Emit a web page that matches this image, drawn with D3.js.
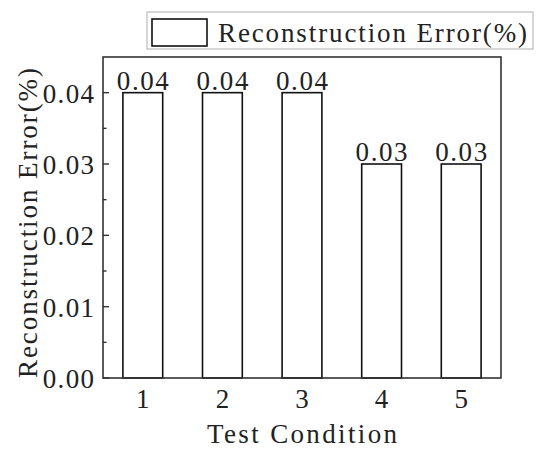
<!DOCTYPE html>
<html><head><meta charset="utf-8">
<script src="https://cdn.jsdelivr.net/npm/d3@7"></script>
<style>body{margin:0;background:#fff}svg{display:block}</style>
</head><body>
<svg id="c" width="550" height="453"></svg>
<script>
const categories = ["1","2","3","4","5"];
const values = [0.04, 0.04, 0.04, 0.03, 0.03];
const valueLabels = ["0.04","0.04","0.04","0.03","0.03"];
const yTicks = [0, 0.01, 0.02, 0.03, 0.04];
const yTickLabels = ["0.00","0.01","0.02","0.03","0.04"];
const yMinorTicks = [0.005, 0.015, 0.025, 0.035];
const seriesName = "Reconstruction Error(%)";
const xTitle = "Test Condition";
const yTitle = "Reconstruction Error(%)";

const svg = d3.select("#c");
const font = "'Liberation Serif', 'DejaVu Serif', serif";
const fs = 27;
const ink = "#222";
const L = 103, R = 501, T = 57, B = 378;

const x = d3.scaleLinear().domain([0.5, 5.5]).range([L, R]);
const y = d3.scaleLinear().domain([0, 0.045]).range([B, T]);
const cw = 13.3; // char width to mimic monospaced font

// bars
svg.append("g").selectAll("rect").data(values).join("rect")
  .attr("x", (d,i) => x(i+1) - (x(1.25)-x(1)))
  .attr("width", x(1.5)-x(1))
  .attr("y", d => y(d))
  .attr("height", d => y(0) - y(d))
  .attr("fill", "#fff").attr("stroke", "#111").attr("stroke-width", 1.6);

// frame
svg.append("rect").attr("x", L).attr("y", T).attr("width", R-L).attr("height", B-T)
  .attr("fill", "none").attr("stroke", "#333").attr("stroke-width", 1.6);

// y axis ticks (inside)
const yAxis = svg.append("g");
yAxis.selectAll("line.maj").data(yTicks).join("line").attr("class","maj")
  .attr("x1", L).attr("x2", L+6).attr("y1", d => y(d)).attr("y2", d => y(d))
  .attr("stroke", "#333").attr("stroke-width", 1.4);
yAxis.selectAll("line.min").data(yMinorTicks).join("line").attr("class","min")
  .attr("x1", L).attr("x2", L+3.5).attr("y1", d => y(d)).attr("y2", d => y(d))
  .attr("stroke", "#333").attr("stroke-width", 1.4);
yAxis.selectAll("text").data(yTicks).join("text")
  .attr("x", 94).attr("y", d => y(d) + 10)
  .attr("text-anchor", "end")
  .attr("font-family", font).attr("font-size", fs).attr("fill", ink)
  .attr("textLength", (d,i) => yTickLabels[i].length * cw - 2)
  .attr("lengthAdjust", "spacing")
  .text((d,i) => yTickLabels[i]);

// x labels
svg.append("g").selectAll("text").data(categories).join("text")
  .attr("x", (d,i) => x(i+1)).attr("y", 408)
  .attr("text-anchor", "middle")
  .attr("font-family", font).attr("font-size", fs).attr("fill", ink)
  .text(d => d);

// value labels
svg.append("g").selectAll("text").data(values).join("text")
  .attr("x", (d,i) => x(i+1) - 26).attr("y", d => y(d) - 3)
  .attr("font-family", font).attr("font-size", fs).attr("fill", ink)
  .attr("textLength", 52).attr("lengthAdjust", "spacing")
  .text((d,i) => valueLabels[i]);

// axis titles
svg.append("text").attr("x", 207).attr("y", 443)
  .attr("font-family", font).attr("font-size", fs).attr("fill", ink)
  .attr("textLength", 190).attr("lengthAdjust", "spacing")
  .text(xTitle);
svg.append("text")
  .attr("transform", `translate(37,${223+155}) rotate(-90)`)
  .attr("x", 0).attr("y", 0)
  .attr("font-family", font).attr("font-size", fs).attr("fill", ink)
  .attr("textLength", 310).attr("lengthAdjust", "spacing")
  .text(yTitle);

// legend
svg.append("rect").attr("x", 147).attr("y", 12).attr("width", 386).attr("height", 37)
  .attr("fill", "#fff").attr("stroke", "#bbb").attr("stroke-width", 1.2);
svg.append("rect").attr("x", 152).attr("y", 19).attr("width", 55).attr("height", 27)
  .attr("fill", "#fff").attr("stroke", "#111").attr("stroke-width", 1.6);
svg.append("text").attr("x", 218).attr("y", 42)
  .attr("font-family", font).attr("font-size", fs).attr("fill", ink)
  .attr("textLength", 309).attr("lengthAdjust", "spacing")
  .text(seriesName);
</script>
</body></html>
